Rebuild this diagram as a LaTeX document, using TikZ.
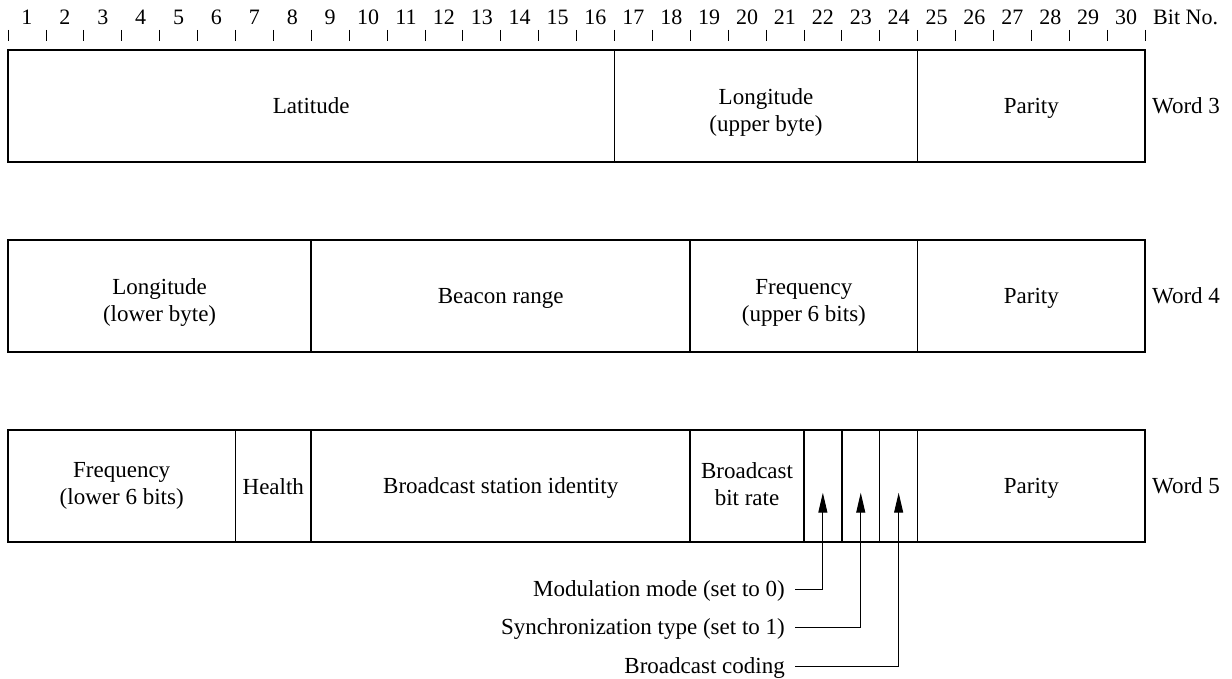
\documentclass[tikz,border=0pt]{standalone}
\usepackage{fontspec}
\setmainfont{Liberation Serif}
\usetikzlibrary{arrows.meta,calc}
% uniform line height for the field captions (height 20pt, depth 4pt)
\newcommand\fieldstrut{\rule[-4pt]{0pt}{24pt}}
% taller first line, lowers a two-line caption a little
\newcommand\capstrut{\rule{0pt}{29pt}}
\begin{document}
\begin{tikzpicture}[x=1pt,y=1pt,
  field/.style={draw, line width=1.5pt, anchor=north west, minimum height=112pt,
    inner sep=0pt, outer sep=0pt, align=center, font=\fontsize{23}{26.5}\selectfont,
    execute at begin node=\fieldstrut, execute at end node=\fieldstrut},
  wordlbl/.style={anchor=west, inner sep=0pt, font=\fontsize{23}{26.5}\selectfont},
  num/.style={anchor=base, inner sep=0pt, font=\fontsize{22}{26}\selectfont},
  tick/.style={line width=0.8pt},
  note/.style={anchor=base east, inner sep=0pt, font=\fontsize{23}{26.5}\selectfont},
  pointer/.style={line width=1pt, -{Triangle[length=20pt,width=9pt]}}
]
\useasboundingbox (0,0) rectangle (1232,-679);

% bit ruler: one bit = 37.9pt, first boundary at x = 8
\foreach \k in {1,...,30}
  \node[num] (n\k) at ({8+(\k-0.5)*37.9},-25) {\k};
\foreach \k in {1,...,31}
  \draw[tick] ({8+(\k-1)*37.9},-30) -- ++(0,-11);
\node[num, anchor=base west] (bitno) at (1153,-25) {Bit No.};

% Word 3
\node[field, minimum width=606.4pt] (lat) at (8,-50) {Latitude};
\node[field, minimum width=303.2pt] (lonU) at (614.4,-50) {\capstrut Longitude\\(upper byte)};
\node[field, minimum width=227.4pt] (par3) at (917.6,-50) {Parity};
\node[wordlbl] (w3) at (1152,-106) {Word 3};

% Word 4
\node[field, minimum width=303.2pt] (lonL) at (8,-240) {\capstrut Longitude\\(lower byte)};
\node[field, minimum width=379pt] (beacon) at (311.2,-240) {Beacon range};
\node[field, minimum width=227.4pt] (freqU) at (690.2,-240) {\capstrut Frequency\\(upper 6 bits)};
\node[field, minimum width=227.4pt] (par4) at (917.6,-240) {Parity};
\node[wordlbl] (w4) at (1152,-296) {Word 4};

% Word 5
\node[field, minimum width=227.4pt] (freqL) at (8,-430) {Frequency\\(lower 6 bits)};
\node[field, minimum width=75.8pt] (health) at (235.4,-430) {Health};
\node[field, minimum width=379pt] (bsid) at (311.2,-430) {Broadcast station identity};
\node[field, minimum width=113.7pt] (rate) at (690.2,-430) {Broadcast\\bit rate};
\node[field, minimum width=37.9pt] (b22) at (803.9,-430) {};
\node[field, minimum width=37.9pt] (b23) at (841.8,-430) {};
\node[field, minimum width=37.9pt] (b24) at (879.7,-430) {};
\node[field, minimum width=227.4pt] (par5) at (917.6,-430) {Parity};
\node[wordlbl] (w5) at (1152,-486) {Word 5};

% single-bit flags and their explanations
\coordinate (t22) at ($(b22.north)!0.56!(b22.south)$);
\coordinate (t23) at ($(b23.north)!0.56!(b23.south)$);
\coordinate (t24) at ($(b24.north)!0.56!(b24.south)$);

\node[note] (mod) at (785,-596) {Modulation mode (set to 0)};
\node[note] (sync) at (785,-634) {Synchronization type (set to 1)};
\node[note] (code) at (785,-673) {Broadcast coding};

\draw[pointer] ([xshift=10pt,yshift=7pt]mod.base east) -| (t22);
\draw[pointer] ([xshift=10pt,yshift=7pt]sync.base east) -| (t23);
\draw[pointer] ([xshift=10pt,yshift=7pt]code.base east) -| (t24);
\end{tikzpicture}
\end{document}
